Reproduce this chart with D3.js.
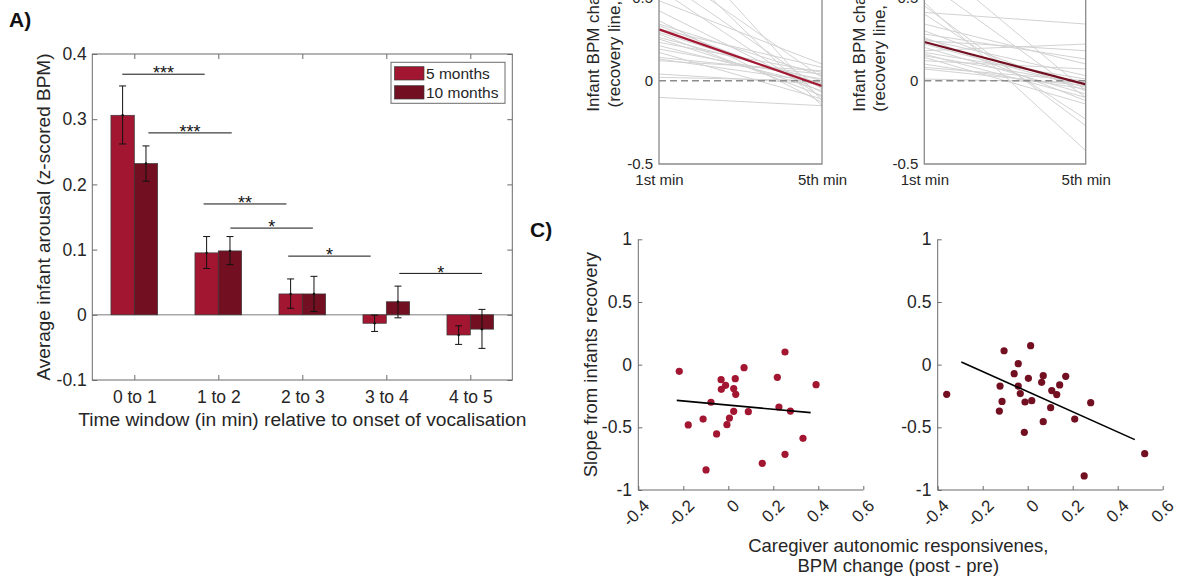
<!DOCTYPE html>
<html><head><meta charset="utf-8">
<script src="https://cdn.jsdelivr.net/npm/d3@7"></script>
<style>
body{margin:0;background:#fff;}
svg{display:block;font-family:"Liberation Sans",Arial,Helvetica,sans-serif;}
</style></head><body>
<svg id="fig" width="1187" height="581"></svg>
<script>
// ---------------- DATA ----------------
// Panel A
const windows = ["0 to 1","1 to 2","2 to 3","3 to 4","4 to 5"];
const ageGroups = ["5 months","10 months"];
const arousal5  = [0.306, 0.095, 0.032, -0.013, -0.031];
const arousal10 = [0.232, 0.098, 0.032, 0.020, -0.022];
const err5Low   = [0.262, 0.071, 0.010, -0.0255, -0.0454];
const err5High  = [0.351, 0.120, 0.055, -0.0005, -0.0169];
const err10Low  = [0.205, 0.077, 0.005, -0.0046, -0.0515];
const err10High = [0.259, 0.120, 0.059, 0.044, 0.0083];
const sigFrom  = [0.857, 1.167, 1.825, 2.144, 2.832, 4.155];
const sigTo    = [1.838, 2.160, 2.811, 3.126, 3.814, 5.140];
const sigLevel = [0.369, 0.279, 0.170, 0.133, 0.090, 0.0635];
const sigLabel = ["***","***","**","*","*","*"];
const aTicks = [-0.1, 0, 0.1, 0.2, 0.3, 0.4];

// Panel B (individual recovery lines, 1st -> 5th min)
const minuteLabels = ["1st min","5th min"];
const bTicks = [-0.5, 0, 0.5];
const recov5Start = [0.95,0.80,0.70,0.62,0.55,0.48,0.42,0.36,0.34,0.33,0.31,0.29,0.28,0.26,0.25,0.23,0.21,0.19,0.17,0.14,0.13,0.12,0.04,0.02,-0.10];
const recov5End   = [-0.12,-0.15,0.02,-0.05,-0.10,0.10,-0.07,-0.13,0.03,-0.04,0.08,-0.02,-0.09,0.00,-0.06,0.05,-0.03,0.01,-0.11,0.04,-0.01,0.06,-0.02,0.00,-0.15];
const recov10Start = [0.47,0.45,0.41,0.40,0.60,0.34,0.30,0.28,0.26,0.25,0.24,0.22,0.20,0.18,0.17,0.16,0.15,0.14,0.12,0.10,0.08,0.07,0.01,0.75];
const recov10End   = [-0.42,-0.27,0.34,-0.23,-0.10,0.10,-0.06,0.13,-0.12,0.03,0.18,-0.04,-0.08,0.22,0.01,-0.10,-0.02,-0.14,0.07,-0.05,0.00,-0.03,-0.01,-0.06];
const mean5  = [0.308, -0.032];
const mean10 = [0.232, -0.022];

// Panel C (scatter)
const cXTicks = [-0.4,-0.2,0,0.2,0.4,0.6];
const cYTicks = [-1,-0.5,0,0.5,1];
const care5  = [-0.218,-0.178,-0.112,-0.099,-0.077,-0.052,-0.032,-0.031,-0.012,-0.006,0.005,0.024,0.031,0.033,0.024,0.070,0.089,0.151,0.218,0.225,0.252,0.252,0.276,0.332,0.390];
const slope5 = [-0.053,-0.481,-0.434,-0.840,-0.300,-0.553,-0.120,-0.197,-0.165,-0.479,-0.426,-0.191,-0.112,-0.237,-0.372,-0.024,-0.375,-0.787,-0.101,-0.338,0.101,-0.715,-0.370,-0.588,-0.160];
const care10  = [-0.360,-0.123,-0.114,-0.126,-0.105,-0.060,-0.042,-0.042,-0.033,-0.012,-0.015,0.003,0.013,0.018,0.062,0.069,0.069,0.102,0.107,0.129,0.142,0.169,0.209,0.251,0.280,0.520];
const slope10 = [-0.237,-0.171,-0.293,-0.370,0.111,-0.072,0.008,-0.171,-0.231,-0.298,-0.540,-0.109,0.151,-0.287,-0.141,-0.088,-0.455,-0.343,-0.207,-0.239,-0.162,-0.093,-0.434,-0.888,-0.303,-0.710];
const fit5X = [-0.229, 0.366],  fit5Y = [-0.285, -0.383];
const fit10X = [-0.295, 0.476], fit10Y = [0.021, -0.598];

// ---------------- DRAWING ----------------
const svg = d3.select("#fig");
svg.append("rect").attr("width",1187).attr("height",581).attr("fill","#fff");
const TXT = "#262626", AX = "#6b6b6b";
const C5 = "#a31631", C10 = "#720f21";

// Panel label
svg.append("text").attr("x",9).attr("y",27).attr("font-size",21).attr("font-weight","bold").attr("fill","#111").text("A)");
svg.append("text").attr("x",530).attr("y",237).attr("font-size",21).attr("font-weight","bold").attr("fill","#111").text("C)");

// ===== Panel A =====
const aX = d3.scaleLinear().domain([0.5,5.5]).range([92.3,512.3]);
const aY = d3.scaleLinear().domain([-0.1,0.4]).range([380,54]);
const barW = 0.278;
const gA = svg.append("g");

gA.append("line").attr("x1",aX(0.5)).attr("x2",aX(5.5)).attr("y1",aY(0)).attr("y2",aY(0))
  .attr("stroke","#a8a8a8").attr("stroke-width",1.5);

const seriesA = [
  {vals:arousal5, lo:err5Low, hi:err5High, color:C5, off:-barW},
  {vals:arousal10, lo:err10Low, hi:err10High, color:C10, off:0}
];
seriesA.forEach(s => {
  gA.append("g").selectAll("rect").data(s.vals).join("rect")
    .attr("x",(d,i)=>aX(i+1+s.off))
    .attr("width",aX(barW)-aX(0))
    .attr("y",d=>Math.min(aY(d),aY(0)))
    .attr("height",d=>Math.abs(aY(d)-aY(0)))
    .attr("fill",s.color).attr("stroke","#3a3a3a").attr("stroke-width",0.7);
});
seriesA.forEach(s => {
  const g = gA.append("g").attr("stroke","#111").attr("stroke-width",1);
  s.vals.forEach((d,i) => {
    const cx = aX(i+1+s.off+barW/2);
    g.append("line").attr("x1",cx).attr("x2",cx).attr("y1",aY(s.lo[i])).attr("y2",aY(s.hi[i]));
    [s.lo[i], s.hi[i]].forEach(v => g.append("line").attr("x1",cx-3.5).attr("x2",cx+3.5).attr("y1",aY(v)).attr("y2",aY(v)));
    g.append("circle").attr("cx",cx).attr("cy",aY(d)).attr("r",1.2).attr("fill","#111").attr("stroke","none");
  });
});

// significance lines
const gSig = gA.append("g");
sigLevel.forEach((lv,i) => {
  gSig.append("line").attr("x1",aX(sigFrom[i])).attr("x2",aX(sigTo[i])).attr("y1",aY(lv)).attr("y2",aY(lv))
    .attr("stroke","#111").attr("stroke-width",1);
  gSig.append("text").attr("x",(aX(sigFrom[i])+aX(sigTo[i]))/2).attr("y",aY(lv)+5.2)
    .attr("text-anchor","middle").attr("font-size",18).attr("fill","#111").text(sigLabel[i]);
});

// axes A
function styleAxis(g, fs){
  g.select(".domain").remove();
  g.selectAll(".tick line").attr("stroke",AX);
  g.selectAll(".tick text").attr("fill",TXT).attr("font-size",fs).attr("font-family",null);
  g.attr("font-family",null);
}
const axA_L = gA.append("g").attr("transform",`translate(${aX(0.5)},0)`)
  .call(d3.axisLeft(aY).tickValues(aTicks).tickFormat(d=>String(d)).tickSizeInner(-5).tickSizeOuter(0).tickPadding(5.6));
styleAxis(axA_L,17.5);
const axA_R = gA.append("g").attr("transform",`translate(${aX(5.5)},0)`)
  .call(d3.axisRight(aY).tickValues(aTicks).tickFormat("").tickSizeInner(-5).tickSizeOuter(0));
styleAxis(axA_R,17.5);
const axA_B = gA.append("g").attr("transform",`translate(0,${aY(-0.1)})`)
  .call(d3.axisBottom(aX).tickValues([1,2,3,4,5]).tickFormat(d=>windows[d-1]).tickSizeInner(-5).tickSizeOuter(0).tickPadding(10.3));
styleAxis(axA_B,17.5);
const axA_T = gA.append("g").attr("transform",`translate(0,${aY(0.4)})`)
  .call(d3.axisTop(aX).tickValues([1,2,3,4,5]).tickFormat("").tickSizeInner(-5).tickSizeOuter(0));
styleAxis(axA_T,17.5);
gA.append("rect").attr("x",aX(0.5)).attr("y",aY(0.4)).attr("width",aX(5.5)-aX(0.5)).attr("height",aY(-0.1)-aY(0.4))
  .attr("fill","none").attr("stroke",AX).attr("stroke-width",1);

gA.append("text").attr("x",(aX(0.5)+aX(5.5))/2).attr("y",425.7).attr("text-anchor","middle")
  .attr("font-size",19.2).attr("fill",TXT).text("Time window (in min) relative to onset of vocalisation");
gA.append("text").attr("transform",`translate(50,${(aY(0.4)+aY(-0.1))/2}) rotate(-90)`).attr("text-anchor","middle")
  .attr("font-size",19).attr("fill",TXT).text("Average infant arousal (z-scored BPM)");

// legend
const lg = gA.append("g");
lg.append("rect").attr("x",391).attr("y",62.3).attr("width",114).attr("height",41).attr("fill","#fff").attr("stroke",AX).attr("stroke-width",1);
[C5,C10].forEach((c,i) => {
  lg.append("rect").attr("x",394.5).attr("y",66.7+i*19).attr("width",29.5).attr("height",13.3).attr("fill",c).attr("stroke","#3a3a3a").attr("stroke-width",0.7);
  lg.append("text").attr("x",426).attr("y",79.3+i*19).attr("font-size",15.5).attr("fill",TXT).text(ageGroups[i]);
});

// ===== Panel B =====
function drawB(x0, x1, starts, ends, mean, color, lab2, lab2Start){
  const x = d3.scalePoint().domain(minuteLabels).range([x0,x1]);
  const y = d3.scaleLinear().domain([-0.5,0.5]).range([164,-2.6]);
  const g = svg.append("g");
  const line = d3.line().x((d,i)=>x(minuteLabels[i])).y(d=>y(d));
  starts.forEach((s,i) => {
    g.append("path").attr("d",line([s,ends[i]])).attr("fill","none").attr("stroke","#d2d2d2").attr("stroke-width",1);
  });
  g.append("line").attr("x1",x0).attr("x2",x1).attr("y1",y(0)).attr("y2",y(0))
    .attr("stroke","#8c8c8c").attr("stroke-width",1.4).attr("stroke-dasharray","7,4");
  g.append("path").attr("d",line(mean)).attr("fill","none").attr("stroke",color).attr("stroke-width",2.2);
  // axes
  const ax = g.append("g").attr("transform",`translate(${x0},0)`)
    .call(d3.axisLeft(y).tickValues(bTicks).tickFormat(d=>String(d)).tickSize(0).tickPadding(6));
  styleAxis(ax,15);
  const bx = g.append("g").attr("transform",`translate(0,${y(-0.5)})`)
    .call(d3.axisBottom(x).tickSize(0).tickPadding(10.3));
  styleAxis(bx,15);
  g.append("path").attr("d",`M${x0},${y(0.5)}V${y(-0.5)}H${x1}V${y(0.5)}`).attr("fill","none").attr("stroke","#8a8a8a").attr("stroke-width",1.3);
  // y labels (top part cut off in the reference)
  g.append("text").attr("transform",`translate(${x0-59.7},111.7) rotate(-90)`).attr("font-size",17).attr("fill",TXT).text("Infant BPM change");
  g.append("text").attr("transform",`translate(${x0-39},${lab2Start}) rotate(-90)`).attr("font-size",17).attr("fill",TXT).text(lab2);
}
drawB(659, 822, recov5Start, recov5End, mean5, C5, "(recovery line, 5 months)", 107.5);
drawB(924.3, 1085.7, recov10Start, recov10End, mean10, C10, "(recovery line, 10 months)", 111.7);

// ===== Panel C =====
function drawC(x0, xs, ys, fx, fy, color, showLabel){
  const x = d3.scaleLinear().domain([-0.4,0.6]).range([x0, x0+225]);
  const y = d3.scaleLinear().domain([-1,1]).range([490,239.3]);
  const g = svg.append("g");
  const axB = g.append("g").attr("transform",`translate(0,${y(-1)})`)
    .call(d3.axisBottom(x).tickValues(cXTicks).tickFormat(d=>d===0?"0":d.toFixed(1)).tickSizeInner(-4).tickSizeOuter(0));
  styleAxis(axB,17);
  axB.selectAll(".tick text").attr("y",0).attr("dy","0.35em").attr("text-anchor","end")
    .attr("transform","translate(7.5,12.5) rotate(-45)");
  const axL = g.append("g").attr("transform",`translate(${x0},0)`)
    .call(d3.axisLeft(y).tickValues(cYTicks).tickFormat(d=>String(d)).tickSizeInner(-4).tickSizeOuter(0).tickPadding(6.3));
  styleAxis(axL,17.5);
  g.append("path").attr("d",`M${x0},${y(1)}V${y(-1)}H${x(0.6)}`).attr("fill","none").attr("stroke",AX).attr("stroke-width",1);
  g.append("g").selectAll("circle").data(xs).join("circle")
    .attr("cx",d=>x(d)).attr("cy",(d,i)=>y(ys[i])).attr("r",3.6).attr("fill",color);
  g.append("line").attr("x1",x(fx[0])).attr("x2",x(fx[1])).attr("y1",y(fy[0])).attr("y2",y(fy[1]))
    .attr("stroke","#000").attr("stroke-width",1.6);
  if(showLabel){
    g.append("text").attr("transform",`translate(597,${(y(1)+y(-1))/2}) rotate(-90)`).attr("text-anchor","middle")
      .attr("font-size",18.5).attr("fill",TXT).text("Slope from infants recovery");
  }
}
drawC(638.3, care5, slope5, fit5X, fit5Y, C5, true);
drawC(937.7, care10, slope10, fit10X, fit10Y, C10, false);

svg.append("text").attr("x",898.3).attr("y",551.7).attr("text-anchor","middle").attr("font-size",18.5).attr("fill",TXT)
  .text("Caregiver autonomic responsivenes,");
svg.append("text").attr("x",898.3).attr("y",571.7).attr("text-anchor","middle").attr("font-size",18.5).attr("fill",TXT)
  .text("BPM change (post - pre)");
</script>
</body></html>
